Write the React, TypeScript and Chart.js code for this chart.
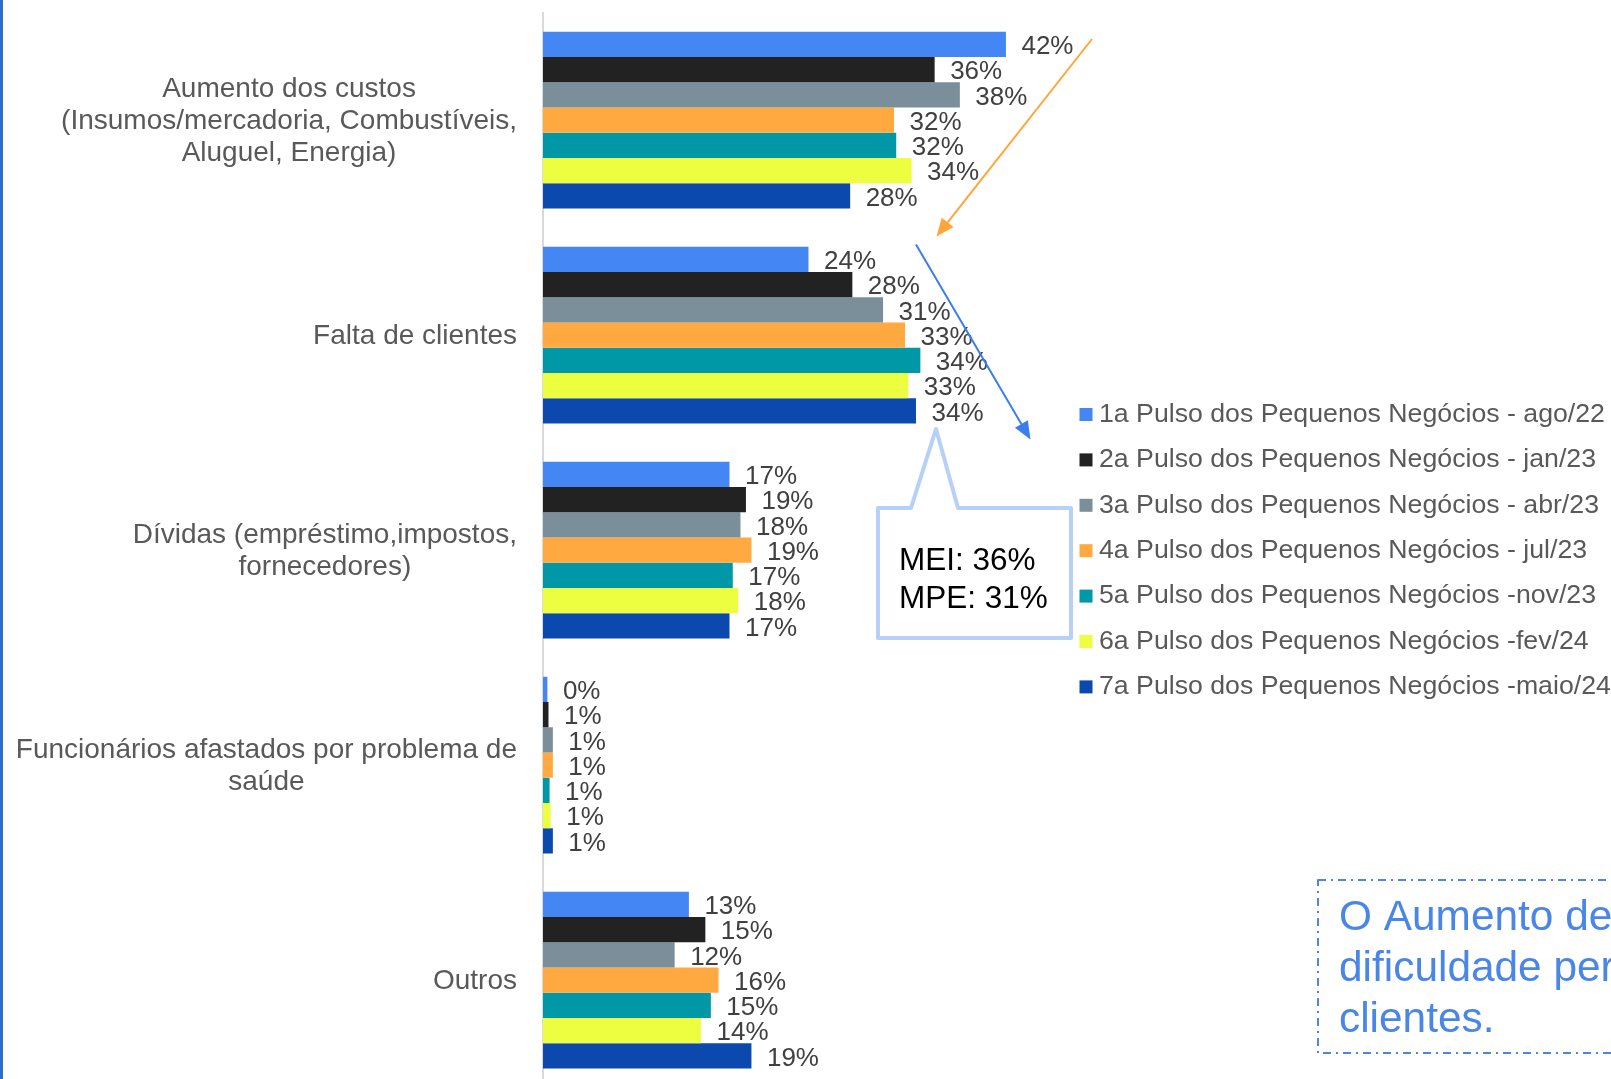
import React, { useEffect, useRef } from "react";
import { Chart, registerables } from "chart.js";

Chart.register(...registerables);

// ---------- data ----------
const categories: string[][] = [
  ["Aumento dos custos", "(Insumos/mercadoria, Combustíveis,", "Aluguel, Energia)"],
  ["Falta de clientes"],
  ["Dívidas (empréstimo,impostos,", "fornecedores)"],
  ["Funcionários afastados por problema de", "saúde"],
  ["Outros"],
];

const seriesNames = [
  "1a Pulso dos Pequenos Negócios - ago/22",
  "2a Pulso dos Pequenos Negócios - jan/23",
  "3a Pulso dos Pequenos Negócios - abr/23",
  "4a Pulso dos Pequenos Negócios - jul/23",
  "5a Pulso dos Pequenos Negócios -nov/23",
  "6a Pulso dos Pequenos Negócios -fev/24",
  "7a Pulso dos Pequenos Negócios -maio/24",
];

const seriesColors = ["#4486F4", "#222222", "#7A8F99", "#FFA940", "#0098A6", "#ECFE3F", "#0B49AE"];

const pulso1 = [42.2, 24.2, 17.0, 0.4, 13.3];
const pulso2 = [35.7, 28.2, 18.5, 0.5, 14.8];
const pulso3 = [38.0, 31.0, 18.0, 0.9, 12.0];
const pulso4 = [32.0, 33.0, 19.0, 0.9, 16.0];
const pulso5 = [32.2, 34.4, 17.3, 0.6, 15.3];
const pulso6 = [33.6, 33.3, 17.8, 0.7, 14.4];
const pulso7 = [28.0, 34.0, 17.0, 0.9, 19.0];

const seriesValues = [pulso1, pulso2, pulso3, pulso4, pulso5, pulso6, pulso7];

const calloutLines = ["MEI: 36%", "MPE: 31%"];
const noteLines = ["O Aumento de", "dificuldade per", "clientes."];

const FONT = '"Liberation Sans", Arial, Helvetica, sans-serif';

function drawArrow(ctx: CanvasRenderingContext2D, x1: number, y1: number, x2: number, y2: number, color: string) {
  const ang = Math.atan2(y2 - y1, x2 - x1);
  const hl = 18;
  const hw = 7.5;
  const bx = x2 - hl * Math.cos(ang);
  const by = y2 - hl * Math.sin(ang);
  ctx.save();
  ctx.strokeStyle = color;
  ctx.fillStyle = color;
  ctx.lineWidth = 2;
  ctx.beginPath();
  ctx.moveTo(x1, y1);
  ctx.lineTo(bx, by);
  ctx.stroke();
  ctx.beginPath();
  ctx.moveTo(x2, y2);
  ctx.lineTo(bx + hw * Math.sin(ang), by - hw * Math.cos(ang));
  ctx.lineTo(bx - hw * Math.sin(ang), by + hw * Math.cos(ang));
  ctx.closePath();
  ctx.fill();
  ctx.restore();
}

const overlayPlugin = {
  id: "overlay",
  afterDatasetsDraw(chart: any) {
    const ctx: CanvasRenderingContext2D = chart.ctx;
    const area = chart.chartArea;
    ctx.save();

    // value labels
    ctx.font = `26px ${FONT}`;
    ctx.fillStyle = "#404040";
    ctx.textBaseline = "middle";
    ctx.textAlign = "left";
    chart.data.datasets.forEach((ds: any, di: number) => {
      const meta = chart.getDatasetMeta(di);
      meta.data.forEach((el: any, i: number) => {
        const v = ds.data[i] as number;
        ctx.fillText(Math.round(v) + "%", el.x + 15.5, el.y + 2.5);
      });
    });

    // category labels (block right-aligned, lines centered)
    const yScale = chart.scales.y;
    ctx.font = `28px ${FONT}`;
    ctx.fillStyle = "#595959";
    ctx.textAlign = "center";
    const right = area.left - 26;
    chart.data.labels.forEach((lab: any, i: number) => {
      const lines: string[] = Array.isArray(lab) ? lab : [lab];
      const w = Math.max(...lines.map((l) => ctx.measureText(l).width));
      const cx = right - w / 2;
      const cy = yScale.getPixelForTick(i);
      const lh = 32;
      lines.forEach((l, j) => ctx.fillText(l, cx, cy + 1 + (j - (lines.length - 1) / 2) * lh));
    });

    // legend
    ctx.font = `26.7px ${FONT}`;
    ctx.textAlign = "left";
    chart.data.datasets.forEach((ds: any, i: number) => {
      const y = 414.5 + i * 45.4;
      ctx.fillStyle = ds.backgroundColor;
      ctx.fillRect(1079.5, y - 6.5, 13, 13);
      ctx.fillStyle = "#595959";
      ctx.fillText(ds.label, 1099, y);
    });

    // arrows
    drawArrow(ctx, 1092, 39, 936.5, 236.5, "#FFA53A");
    drawArrow(ctx, 916, 244.5, 1030.5, 439.5, "#3B7EEB");

    // callout
    ctx.beginPath();
    ctx.moveTo(911, 508);
    ctx.lineTo(936, 429);
    ctx.lineTo(958, 508);
    ctx.lineTo(1071, 508);
    ctx.lineTo(1071, 638);
    ctx.lineTo(878, 638);
    ctx.lineTo(878, 508);
    ctx.closePath();
    ctx.fillStyle = "#ffffff";
    ctx.fill();
    ctx.lineWidth = 4;
    ctx.lineJoin = "round";
    ctx.strokeStyle = "#B6D0F7";
    ctx.stroke();
    ctx.fillStyle = "#000000";
    ctx.font = `31.5px ${FONT}`;
    ctx.textBaseline = "alphabetic";
    ctx.fillText(calloutLines[0], 899, 570);
    ctx.fillText(calloutLines[1], 899, 608);

    // note box
    ctx.beginPath();
    ctx.setLineDash([8, 5, 2, 5]);
    ctx.lineWidth = 2;
    ctx.strokeStyle = "#4A86E8";
    ctx.rect(1318, 880, 420, 173);
    ctx.stroke();
    ctx.setLineDash([]);
    ctx.fillStyle = "#4A86E8";
    ctx.font = `42.4px ${FONT}`;
    noteLines.forEach((l, i) => ctx.fillText(l, 1339, 930 + i * 51));

    ctx.restore();
  },
};

export default function App() {
  const ref = useRef<HTMLCanvasElement | null>(null);

  useEffect(() => {
    if (!ref.current) return;
    const chart = new Chart(ref.current, {
      type: "bar",
      data: {
        labels: categories as any,
        datasets: seriesValues.map((vals, i) => ({
          label: seriesNames[i],
          data: vals,
          backgroundColor: seriesColors[i],
          borderWidth: 0,
          categoryPercentage: 0.822,
          barPercentage: 1,
        })),
      },
      options: {
        indexAxis: "y",
        responsive: false,
        animation: false,
        layout: { padding: { left: 0, right: 519.5, top: 12.7, bottom: 12.3 } },
        plugins: {
          legend: { display: false },
          tooltip: { enabled: false },
        },
        scales: {
          x: { display: false, min: 0, max: 50 },
          y: {
            display: true,
            ticks: { display: false },
            grid: { display: false, drawTicks: false },
            border: { display: true, color: "#D9D9D9", width: 2 },
            afterFit: (s: any) => {
              s.width = 543;
            },
          },
        },
      } as any,
      plugins: [overlayPlugin as any],
    });
    return () => chart.destroy();
  }, []);

  return (
    <div
      style={{
        position: "fixed",
        left: 0,
        top: 0,
        width: 1611,
        height: 1079,
        overflow: "hidden",
        background: "#ffffff",
      }}
    >
      <canvas ref={ref} width={1611} height={1100} style={{ display: "block" }} />
      <div
        style={{
          position: "absolute",
          left: 0,
          top: 0,
          width: 3,
          height: 1079,
          background: "#2F6DCB",
        }}
      />
    </div>
  );
}
